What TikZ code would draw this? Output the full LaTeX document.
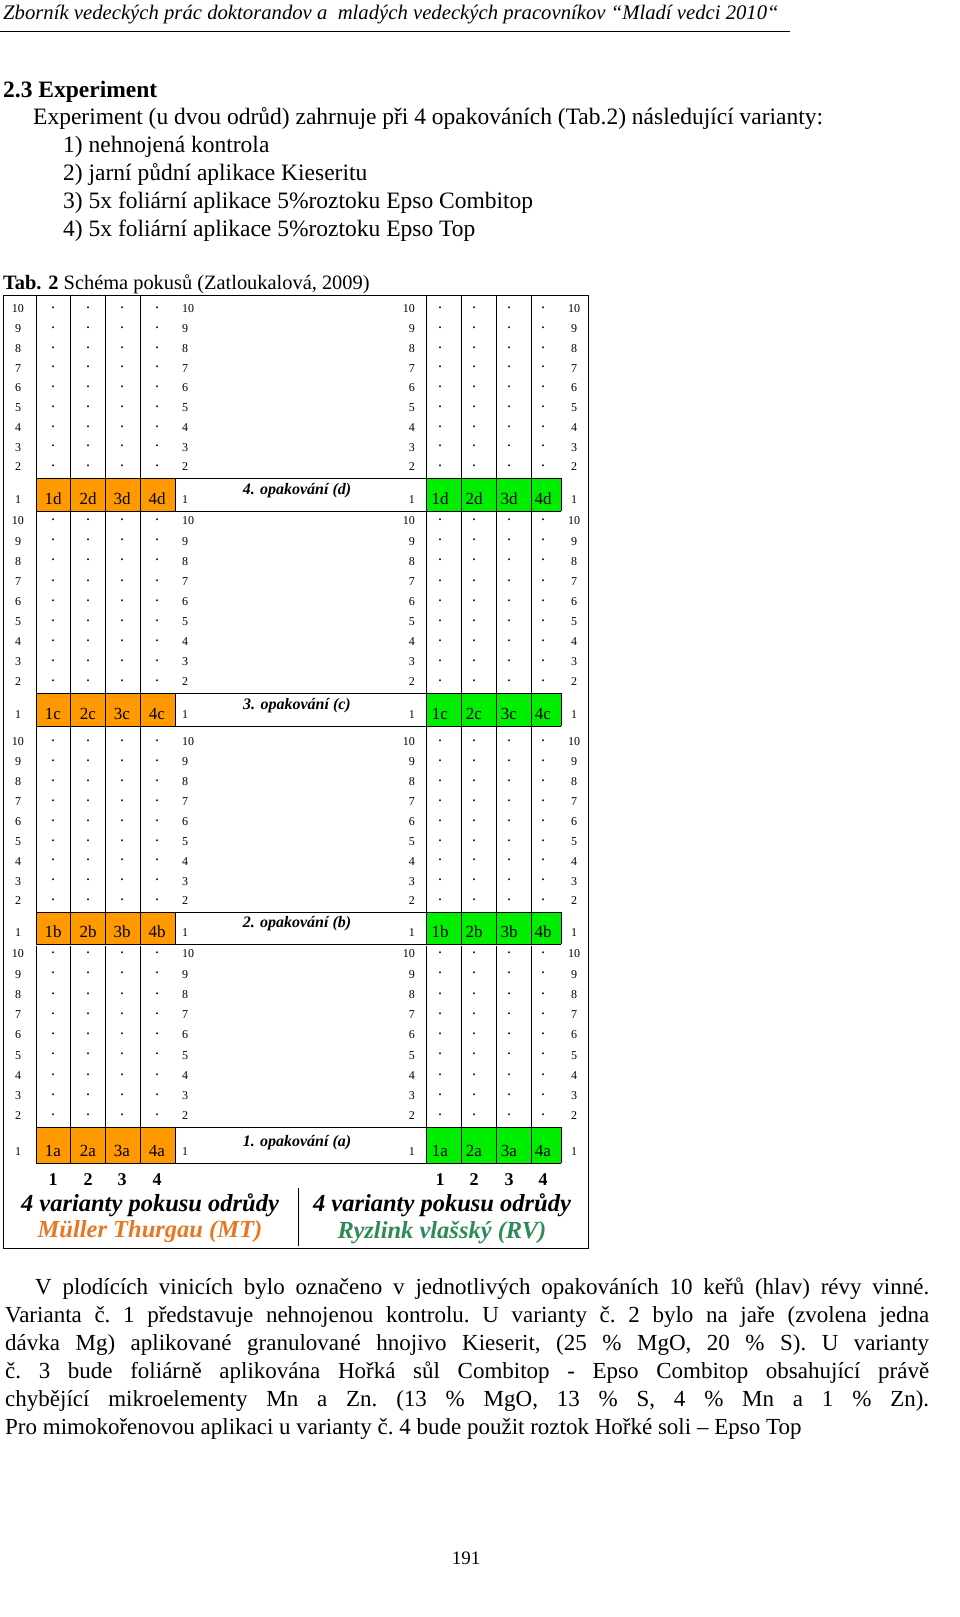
\documentclass[tikz,border=0pt]{standalone}
\usepackage{fontspec}
\setmainfont{Liberation Serif}
\usetikzlibrary{positioning}
\definecolor{mtorange}{HTML}{FF9900}
\definecolor{rvgreen}{HTML}{00EE00}
\definecolor{mttext}{HTML}{E87722}
\definecolor{rvtext}{HTML}{2E8B57}
\tikzset{
  tabnum/.style = {font=\fontsize{12}{12}\selectfont, inner sep=0pt},
  tabdot/.style = {font=\fontsize{16}{16}\selectfont, inner sep=0pt},
  cellbox/.style = {draw=black, thick},
  body/.style = {font=\fontsize{23.5}{28}\selectfont, inner sep=0pt, anchor=base west},
  replabel/.style = {font=\fontsize{16}{16}\selectfont\bfseries\itshape, inner sep=0pt},
}
\begin{document}
\begin{tikzpicture}[x=1pt,y=-1pt]
\useasboundingbox (0,0) rectangle (960,1617);
% page header
\node[anchor=base west, inner sep=0pt, font=\fontsize{20.7}{20.7}\selectfont\itshape] (head) at (3,19)
  {Zborník vedeckých prác doktorandov a \ mladých vedeckých pracovníkov “Mladí vedci 2010“};
\draw[thick] (0,31) -- (790,31);
\node[body, font=\fontsize{23.5}{28}\selectfont\bfseries] (sec) at (3,97) {2.3 Experiment};
\node[body] (intro) at (33,124) {Experiment (u dvou odrůd) zahrnuje při 4 opakováních (Tab.2) následující varianty:};
\node[body] (v1) at (63,152) {1) nehnojená kontrola};
\node[body] (v2) at (63,180) {2) jarní půdní aplikace Kieseritu};
\node[body] (v3) at (63,208) {3) 5x foliární aplikace 5\%roztoku Epso Combitop};
\node[body] (v4) at (63,236) {4) 5x foliární aplikace 5\%roztoku Epso Top};
\node[anchor=base west, inner sep=0pt, font=\fontsize{20.4}{20.4}\selectfont] (cap) at (3,289)
  {\textbf{Tab. 2} Schéma pokusů (Zatloukalová, 2009)};

% table
\draw[cellbox] (3,295) rectangle (588,1248);
\foreach \L/\ta/\tb/\tc/\prev/\lab [count=\k] in
  {d/309/467/497/295/\textit{4. opakování (d)},
   c/521/682/712/510/\textit{3. opakování (c)},
   b/742/901/930/727/\textit{2. opakování (b)},
   a/954/1116/1149/946/{1. \textit{opakování (a)}}}{
  \pgfmathsetmacro{\ctop}{\tb+11}
  \pgfmathsetmacro{\cbot}{\tc+14}
  \fill[mtorange] (36,\ctop) rectangle (175,\cbot);
  \fill[rvgreen] (426,\ctop) rectangle (561,\cbot);
  \foreach \xl in {36,70,105,140,426,461,496,531}
    \draw[cellbox] (\xl,\prev) -- (\xl,\cbot);
  \draw[cellbox] (175,\ctop) -- (175,\cbot);
  \draw[cellbox] (561,\ctop) -- (561,\cbot);
  \draw[cellbox] (36,\ctop) -- (561,\ctop);
  \draw[cellbox] (36,\cbot) -- (561,\cbot);
  \foreach \r in {10,...,2}{
    \pgfmathsetmacro{\yy}{\ta+(10-\r)*(\tb-\ta)/8}
    \node[tabnum] (l\L\r) at (18,\yy) {\r};
    \node[tabnum, anchor=west] (m\L\r) at (182,\yy) {\r};
    \node[tabnum, anchor=east] (n\L\r) at (415,\yy) {\r};
    \node[tabnum] (r\L\r) at (574,\yy) {\r};
    \foreach \xd [count=\j] in {53,88,122,157}
      \node[tabdot] (dl\L\r\j) at (\xd,\yy-1) {.};
    \foreach \xd [count=\j] in {440,474,509,543}
      \node[tabdot] (dr\L\r\j) at (\xd,\yy-1) {.};
  }
  \node[tabnum] (l\L1) at (18,\tc+3) {1};
  \node[tabnum, anchor=west] (m\L1) at (182,\tc+3) {1};
  \node[tabnum, anchor=east] (n\L1) at (415,\tc+3) {1};
  \node[tabnum] (r\L1) at (574,\tc+3) {1};
  \foreach \xd [count=\j] in {53,88,122,157}
    \node[inner sep=0pt, font=\fontsize{17}{17}\selectfont] (ol\L\j) at (\xd,\tc+2) {\j\L};
  \foreach \xd [count=\j] in {440,474,509,543}
    \node[inner sep=0pt, font=\fontsize{17}{17}\selectfont] (gr\L\j) at (\xd,\tc+2) {\j\L};
  \node[replabel] (rep\L) at (297,\tc-6) {\lab};
}
% variety legend
\foreach \xd [count=\j] in {53,88,122,157}
  \node[inner sep=0pt, font=\fontsize{18}{18}\selectfont\bfseries] (vl\j) at (\xd,1180) {\j};
\foreach \xd [count=\j] in {440,474,509,543}
  \node[inner sep=0pt, font=\fontsize{18}{18}\selectfont\bfseries] (vr\j) at (\xd,1180) {\j};
\draw (298,1188) -- (298,1246);
\node[inner sep=0pt, font=\fontsize{24.5}{24.5}\selectfont\bfseries\itshape] (mt) at (150,1205) {4 varianty pokusu odrůdy};
\node[inner sep=0pt, font=\fontsize{24.5}{24.5}\selectfont\bfseries\itshape, text=mttext] (mtn) at (150,1232) {Müller Thurgau (MT)};
\node[inner sep=0pt, font=\fontsize{24.5}{24.5}\selectfont\bfseries\itshape] (rv) at (442,1205) {4 varianty pokusu odrůdy};
\node[inner sep=0pt, font=\fontsize{24.5}{24.5}\selectfont\bfseries\itshape, text=rvtext] (rvn) at (442,1232) {Ryzlink vlašský (RV)};

% closing paragraph
\node[inner sep=0pt, anchor=north west, text width=924pt, align=justify,
      font=\fontsize{23}{28}\selectfont] (para) at (5,1278)
  {\hyphenpenalty=10000\relax\frenchspacing\parfillskip=0pt\relax\hspace*{30pt}V plodících vinicích bylo označeno v jednotlivých opakováních 10 keřů (hlav) révy vinné.\linebreak Varianta č. 1 představuje nehnojenou kontrolu. U varianty č. 2 bylo na jaře (zvolena jedna\linebreak dávka Mg) aplikované granulované hnojivo Kieserit, (25 \% MgO, 20 \% S). U varianty\linebreak č.~3 bude foliárně aplikována Hořká sůl Combitop - Epso Combitop obsahující právě\linebreak chybějící mikroelementy Mn a Zn. (13 \% MgO, 13 \% S, 4 \% Mn a 1 \% Zn).\linebreak Pro mimokořenovou aplikaci u varianty č. 4 bude použit roztok Hořké soli – Epso Top};
\node[inner sep=0pt, font=\fontsize{19}{19}\selectfont] (page) at (466,1558) {191};
\end{tikzpicture}
\end{document}
